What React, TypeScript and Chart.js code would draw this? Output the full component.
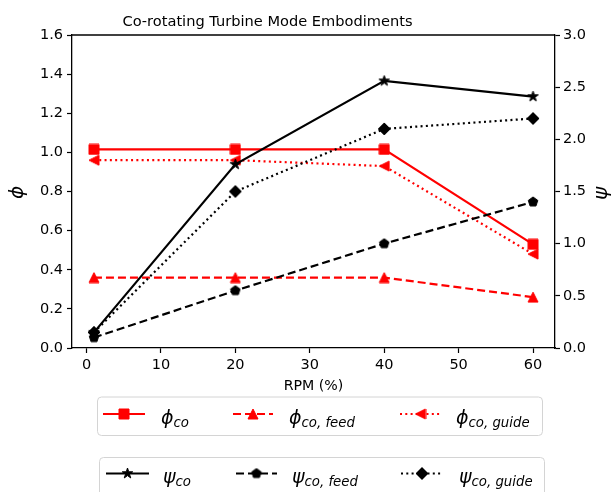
import { useEffect, useRef } from "react";
import { Chart, registerables } from "chart.js";

Chart.register(...registerables);

// RPM (%) operating points
const rpm = [1, 20, 40, 60];

// Flow coefficient (left axis)
const phiCo = [1.015, 1.015, 1.015, 0.53];
const phiCoFeed = [0.36, 0.36, 0.36, 0.26];
const phiCoGuide = [0.96, 0.96, 0.93, 0.48];

// Head coefficient (right axis)
const psiCo = [0.15, 1.76, 2.56, 2.41];
const psiCoFeed = [0.1, 0.55, 1.0, 1.4];
const psiCoGuide = [0.15, 1.5, 2.1, 2.2];

const xTicks = [0, 10, 20, 30, 40, 50, 60];
const phiTicks = [0, 0.2, 0.4, 0.6, 0.8, 1.0, 1.2, 1.4, 1.6];
const psiTicks = [0, 0.5, 1.0, 1.5, 2.0, 2.5, 3.0];

const TITLE = "Co-rotating Turbine Mode Embodiments";
const X_TITLE = "RPM (%)";
const FONT = '"DejaVu Sans", sans-serif';
const RED = "#ff0000";
const BLACK = "#000000";

type MarkerKind = "square" | "triUp" | "triLeft" | "star" | "pentagon" | "diamond";

function makeMarker(kind: MarkerKind, color: string, size: number): HTMLCanvasElement {
  const s = Math.ceil(size + 2);
  const c = document.createElement("canvas");
  c.width = s;
  c.height = s;
  const g = c.getContext("2d")!;
  const cx = s / 2;
  const cy = s / 2;
  const r = size / 2;
  g.fillStyle = color;
  g.strokeStyle = color;
  g.lineWidth = 1;
  g.beginPath();
  if (kind === "square") {
    g.rect(cx - r, cy - r, 2 * r, 2 * r);
  } else if (kind === "triUp") {
    g.moveTo(cx, cy - r);
    g.lineTo(cx + r, cy + r);
    g.lineTo(cx - r, cy + r);
    g.closePath();
  } else if (kind === "triLeft") {
    g.moveTo(cx - r, cy);
    g.lineTo(cx + r, cy - r);
    g.lineTo(cx + r, cy + r);
    g.closePath();
  } else if (kind === "star") {
    const inner = r * 0.382;
    for (let i = 0; i < 10; i++) {
      const rr = i % 2 === 0 ? r : inner;
      const ang = -Math.PI / 2 + (i * Math.PI) / 5;
      const px = cx + rr * Math.cos(ang);
      const py = cy + rr * Math.sin(ang);
      if (i === 0) g.moveTo(px, py);
      else g.lineTo(px, py);
    }
    g.closePath();
  } else if (kind === "pentagon") {
    for (let i = 0; i < 5; i++) {
      const ang = -Math.PI / 2 + (i * 2 * Math.PI) / 5;
      const px = cx + r * Math.cos(ang);
      const py = cy + r * Math.sin(ang);
      if (i === 0) g.moveTo(px, py);
      else g.lineTo(px, py);
    }
    g.closePath();
  } else if (kind === "diamond") {
    g.moveTo(cx, cy - r);
    g.lineTo(cx + r, cy);
    g.lineTo(cx, cy + r);
    g.lineTo(cx - r, cy);
    g.closePath();
  }
  g.fill();
  g.stroke();
  return c;
}

type LegendItem = {
  color: string;
  dash: number[];
  marker: HTMLCanvasElement;
  x0: number;
  x1: number;
  textX: number;
  sym: string;
  sub: string;
};

function drawLegend(
  ctx: CanvasRenderingContext2D,
  box: { x: number; y: number; w: number; h: number },
  lineY: number,
  items: LegendItem[]
) {
  ctx.save();
  ctx.beginPath();
  const rad = 4;
  const { x, y, w, h } = box;
  ctx.moveTo(x + rad, y);
  ctx.lineTo(x + w - rad, y);
  ctx.arcTo(x + w, y, x + w, y + rad, rad);
  ctx.lineTo(x + w, y + h - rad);
  ctx.arcTo(x + w, y + h, x + w - rad, y + h, rad);
  ctx.lineTo(x + rad, y + h);
  ctx.arcTo(x, y + h, x, y + h - rad, rad);
  ctx.lineTo(x, y + rad);
  ctx.arcTo(x, y, x + rad, y, rad);
  ctx.closePath();
  ctx.fillStyle = "rgba(255,255,255,0.8)";
  ctx.fill();
  ctx.strokeStyle = "#d4d4d4";
  ctx.lineWidth = 1;
  ctx.stroke();

  for (const it of items) {
    ctx.strokeStyle = it.color;
    ctx.lineWidth = 2.2;
    ctx.setLineDash(it.dash);
    ctx.beginPath();
    ctx.moveTo(it.x0, lineY);
    ctx.lineTo(it.x1, lineY);
    ctx.stroke();
    ctx.setLineDash([]);
    const m = it.marker;
    ctx.drawImage(m, (it.x0 + it.x1) / 2 - m.width / 2, lineY - m.height / 2);

    ctx.fillStyle = "#000";
    ctx.textAlign = "left";
    ctx.textBaseline = "alphabetic";
    const base = lineY + 9.5;
    ctx.font = `italic 19px ${FONT}`;
    ctx.fillText(it.sym, it.textX, base);
    const sw = ctx.measureText(it.sym).width;
    ctx.font = `italic 13.3px ${FONT}`;
    ctx.fillText(it.sub, it.textX + sw, base + 3);
  }
  ctx.restore();
}

export default function App() {
  const ref = useRef<HTMLCanvasElement | null>(null);

  useEffect(() => {
    const canvas = ref.current;
    if (!canvas) return;

    const mSquare = makeMarker("square", RED, 10);
    const mTriUp = makeMarker("triUp", RED, 10);
    const mTriLeft = makeMarker("triLeft", RED, 10);
    const mStar = makeMarker("star", BLACK, 11);
    const mPent = makeMarker("pentagon", BLACK, 10);
    const mDiamond = makeMarker("diamond", BLACK, 12);

    const pts = (ys: number[]) => rpm.map((x, i) => ({ x, y: ys[i] }));

    const series = [
      { label: "phi_co", data: pts(phiCo), color: RED, dash: [], marker: mSquare, axis: "yPhi", order: 6 },
      { label: "phi_co,feed", data: pts(phiCoFeed), color: RED, dash: [8, 4], marker: mTriUp, axis: "yPhi", order: 5 },
      { label: "phi_co,guide", data: pts(phiCoGuide), color: RED, dash: [2, 3.3], marker: mTriLeft, axis: "yPhi", order: 4 },
      { label: "psi_co", data: pts(psiCo), color: BLACK, dash: [], marker: mStar, axis: "yPsi", order: 3 },
      { label: "psi_co,feed", data: pts(psiCoFeed), color: BLACK, dash: [8, 4], marker: mPent, axis: "yPsi", order: 2 },
      { label: "psi_co,guide", data: pts(psiCoGuide), color: BLACK, dash: [2, 3.3], marker: mDiamond, axis: "yPsi", order: 1 },
    ];

    const tickFont = { family: FONT, size: 14.5 };

    const decor = {
      id: "decor",
      afterDraw(chart: Chart) {
        const ctx = chart.ctx;
        const a = chart.chartArea;
        ctx.save();
        // top spine
        ctx.strokeStyle = "#000";
        ctx.lineWidth = 1.3;
        ctx.beginPath();
        ctx.moveTo(a.left, a.top);
        ctx.lineTo(a.right, a.top);
        ctx.stroke();

        ctx.fillStyle = "#000";
        ctx.textAlign = "center";
        ctx.textBaseline = "alphabetic";
        ctx.font = `14.6px ${FONT}`;
        ctx.fillText(TITLE, 267.5, 26);

        ctx.font = `14.2px ${FONT}`;
        ctx.fillText(X_TITLE, (a.left + a.right) / 2, 389.5);

        ctx.textBaseline = "middle";
        ctx.font = `italic 20px ${FONT}`;
        ctx.save();
        ctx.translate(18, (a.top + a.bottom) / 2 + 1);
        ctx.rotate(-Math.PI / 2);
        ctx.fillText("\u03D5", 0, 0);
        ctx.restore();

        ctx.save();
        ctx.translate(602, (a.top + a.bottom) / 2 + 2);
        ctx.rotate(-Math.PI / 2);
        ctx.fillText("\u03C8", 0, 0);
        ctx.restore();
        ctx.restore();

        drawLegend(ctx, { x: 97.5, y: 397, w: 445, h: 38.5 }, 414, [
          { color: RED, dash: [], marker: mSquare, x0: 103, x1: 145, textX: 161, sym: "\u03D5", sub: "co" },
          { color: RED, dash: [8, 4], marker: mTriUp, x0: 233, x1: 273, textX: 289, sym: "\u03D5", sub: "co, feed" },
          { color: RED, dash: [2, 3.3], marker: mTriLeft, x0: 400, x1: 441, textX: 456, sym: "\u03D5", sub: "co, guide" },
        ]);
        drawLegend(ctx, { x: 99.5, y: 457.5, w: 445, h: 40 }, 473.5, [
          { color: BLACK, dash: [], marker: mStar, x0: 106, x1: 149, textX: 163, sym: "\u03C8", sub: "co" },
          { color: BLACK, dash: [8, 4], marker: mPent, x0: 236, x1: 277, textX: 292, sym: "\u03C8", sub: "co, feed" },
          { color: BLACK, dash: [2, 3.3], marker: mDiamond, x0: 401, x1: 443, textX: 459, sym: "\u03C8", sub: "co, guide" },
        ]);
      },
    };

    const axisCommon = {
      grid: { drawOnChartArea: false, drawTicks: true, tickLength: 5, tickColor: "#000", tickWidth: 1.2 },
      border: { display: true, color: "#000", width: 1.3 },
    };

    const chart = new Chart(canvas, {
      type: "line",
      data: {
        datasets: series.map((s) => ({
          label: s.label,
          data: s.data,
          yAxisID: s.axis,
          order: s.order,
          borderColor: s.color,
          backgroundColor: s.color,
          borderWidth: 2.2,
          borderDash: s.dash,
          pointStyle: s.marker,
          pointRadius: 5,
          fill: false,
          tension: 0,
        })),
      },
      options: {
        responsive: false,
        animation: false,
        events: [],
        layout: { padding: { top: 35, bottom: 96, left: 0, right: 0 } },
        plugins: {
          legend: { display: false },
          title: { display: false },
          tooltip: { enabled: false },
        },
        scales: {
          x: {
            type: "linear",
            min: -1.95,
            max: 62.95,
            ...axisCommon,
            afterBuildTicks: (s: any) => {
              s.ticks = xTicks.map((v) => ({ value: v }));
            },
            afterFit: (s: any) => {
              s.height = 48;
            },
            ticks: {
              color: "#000",
              font: tickFont,
              padding: 4,
              maxRotation: 0,
              autoSkip: false,
              callback: (v: any) => String(v),
            },
          },
          yPhi: {
            type: "linear",
            position: "left",
            min: 0,
            max: 1.6,
            ...axisCommon,
            afterBuildTicks: (s: any) => {
              s.ticks = phiTicks.map((v) => ({ value: v }));
            },
            afterFit: (s: any) => {
              s.width = 72;
            },
            ticks: {
              color: "#000",
              font: tickFont,
              padding: 4,
              autoSkip: false,
              callback: (v: any) => Number(v).toFixed(1),
            },
          },
          yPsi: {
            type: "linear",
            position: "right",
            min: 0,
            max: 3,
            ...axisCommon,
            afterBuildTicks: (s: any) => {
              s.ticks = psiTicks.map((v) => ({ value: v }));
            },
            afterFit: (s: any) => {
              s.width = 58;
            },
            ticks: {
              color: "#000",
              font: tickFont,
              padding: 3,
              autoSkip: false,
              callback: (v: any) => Number(v).toFixed(1),
            },
          },
        },
      },
      plugins: [decor],
    } as any);

    return () => chart.destroy();
  }, []);

  return (
    <div style={{ position: "fixed", left: 0, top: 0, width: 613, height: 492, background: "#fff" }}>
      <canvas ref={ref} width={613} height={492} style={{ display: "block", width: 613, height: 492 }} />
    </div>
  );
}
